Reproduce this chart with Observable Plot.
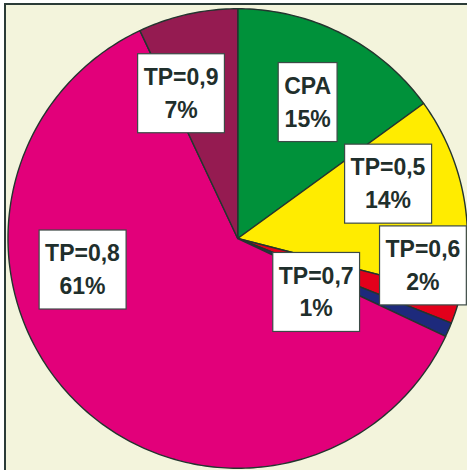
<!DOCTYPE html>
<html>
<head>
<meta charset="utf-8">
<script src="https://cdn.jsdelivr.net/npm/d3@7"></script>
<script src="https://cdn.jsdelivr.net/npm/@observablehq/plot@0.6"></script>
<style>
  body { margin: 0; background: #ffffff; }
  #wrap { position: relative; width: 467px; height: 470px; overflow: hidden; }
  #bg { position: absolute; left: 4px; top: 3px; width: 480px; height: 480px;
        background: #F3F4DC; border-left: 2px solid #2b3b37; border-top: 2px solid #2b3b37; }
  #chart { position: absolute; left: 0; top: 0; }
</style>
</head>
<body>
<div id="wrap"><div id="bg"></div><div id="chart"></div></div>
<script>
// ---- data (clockwise from 12 o'clock) ----
const categories = ["CPA", "TP=0,5", "TP=0,6", "TP=0,7", "TP=0,8", "TP=0,9"];
const shares = [15, 14, 2, 1, 61, 7];
const percentLabels = ["15%", "14%", "2%", "1%", "61%", "7%"];
const colors = ["#00913A", "#FFEC00", "#E3001B", "#1D2A7C", "#E2007A", "#951B51"];
// label placement (angle in degrees clockwise from north, radius as fraction of pie radius)
const labelAngles = [26.7, 69.1, 97.5, 123, 259.6, 339];
const labelRadii = [0.677, 0.70, 0.813, 0.407, 0.687, 0.689];

// ---- build slice polygons in unit-circle coordinates ----
const total = d3.sum(shares);
const rad = Math.PI / 180;
const pt = (deg, r = 1) => [r * Math.sin(deg * rad), r * Math.cos(deg * rad)];
let acc = 0;
const slices = categories.map((c, i) => {
  const a0 = acc / total * 360;
  acc += shares[i];
  const a1 = acc / total * 360;
  const ring = [[0, 0]];
  const n = Math.max(2, Math.ceil(a1 - a0));
  for (let k = 0; k <= n; k++) ring.push(pt(a0 + (a1 - a0) * k / n));
  ring.push([0, 0]);
  return {type: "Feature", properties: {name: c}, geometry: {type: "Polygon", coordinates: [ring]}};
});
const circle = {type: "Polygon", coordinates: [d3.range(0, 361, 2).map(a => pt(a))]};

const labels = categories.map((c, i) => {
  const [x, y] = pt(labelAngles[i], labelRadii[i]);
  return {x, y, text: c + "\n" + percentLabels[i]};
});

const chart = Plot.plot({
  width: 467,
  height: 470,
  marginLeft: 7.5,
  marginTop: 8,
  marginRight: 0,
  marginBottom: 2,
  style: {background: "transparent"},
  projection: {type: "reflect-y", domain: circle},
  color: {domain: categories, range: colors},
  marks: [
    Plot.geo(slices, {fill: d => d.properties.name, stroke: "#24352f", strokeWidth: 1.4, strokeLinejoin: "round"}),
    Plot.text(labels, {x: "x", y: "y", text: "text", className: "lbl",
      fontFamily: "Liberation Sans, Arial, sans-serif", fontWeight: "bold", fontSize: 23,
      lineHeight: 1.43, fill: "#1f2f2c", textAnchor: "middle", lineAnchor: "middle"})
  ]
});
document.getElementById("chart").appendChild(chart);

// white boxes behind the labels
d3.select(chart).selectAll("g.lbl text").each(function () {
  const b = this.getBBox();
  d3.select(this.parentNode).insert("rect", () => this)
    .attr("transform", this.getAttribute("transform"))
    .attr("x", b.x - 6).attr("y", b.y + b.height / 2 - 39.5)
    .attr("width", b.width + 12).attr("height", 79)
    .attr("fill", "#ffffff").attr("stroke", "#3c4a46").attr("stroke-width", 1.2);
});
</script>
</body>
</html>
